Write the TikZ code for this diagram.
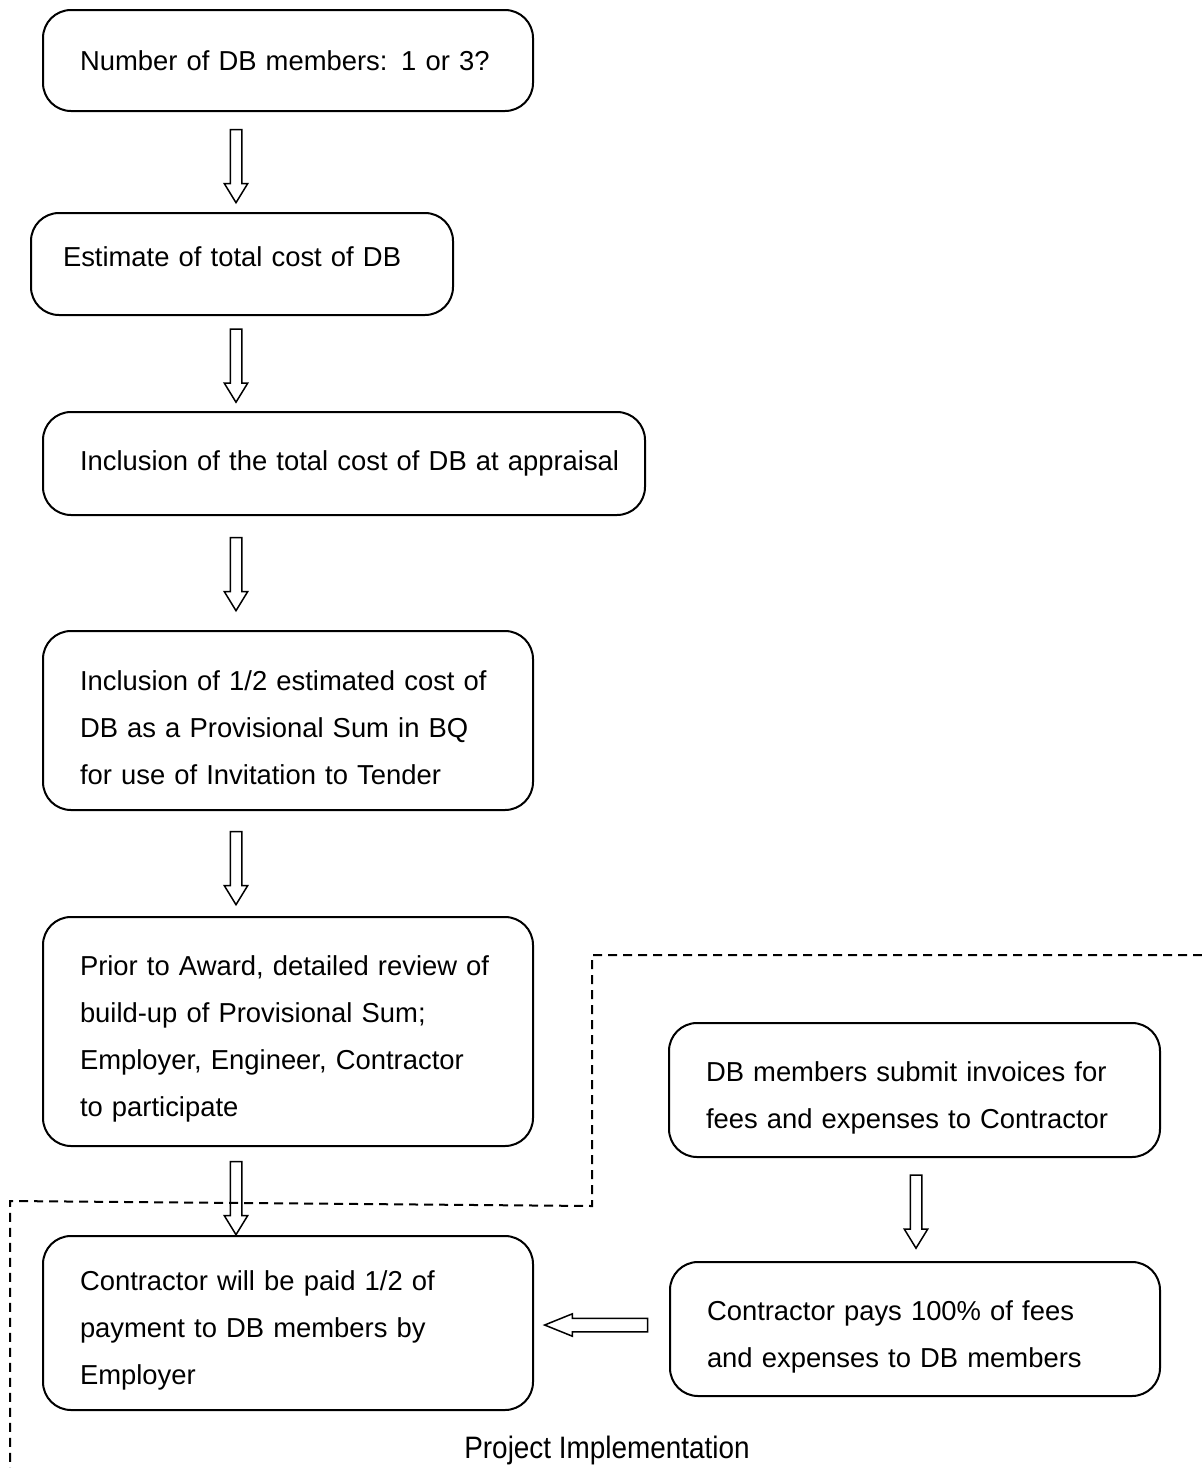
\documentclass[tikz,border=0pt]{standalone}
\usepackage{fontspec}
\setmainfont{Liberation Sans}
\usetikzlibrary{shapes,arrows}

\begin{document}
\begin{tikzpicture}[x=1pt,y=-1pt,draw=black!100]
	\def \leftcol{236}
	\def \rightcol{916}
	\def \topgap{\rule{0pt}{35pt}}
	\def \botgap{\rule[-14pt]{0pt}{14pt}}
	\tikzstyle{box}=[rectangle,rounded corners=28pt,draw=black!100,line width=2pt,align=left,inner xsep=37pt,inner ysep=0pt,font=\fontsize{27.4pt}{47pt}\selectfont]
	\tikzstyle{d-arrow}=[single arrow,draw=black!100,line width=1.5pt,rotate=-90,inner sep=5pt,single arrow head extend=6pt,single arrow tip angle=63,minimum height=73pt]
	\tikzstyle{l-arrow}=[single arrow,draw=black!100,line width=1.5pt,rotate=180,inner sep=6pt,single arrow head extend=4.5pt,single arrow tip angle=44,minimum height=103pt]
	\tikzstyle{border}=[draw=black!100,line width=2pt,dash pattern=on 9pt off 6pt]
	\tikzstyle{annot}=[font=\fontsize{31pt}{37pt}\selectfont]
	\useasboundingbox (0,0) rectangle (1202,1468);
	% planning steps
	\node[box,minimum width=490pt,minimum height=101pt,text width=416pt] (members) at (288,60.5) {Number of DB members: 1 or 3?};
	\node[box,minimum width=422pt,minimum height=102pt,inner xsep=32pt,text width=358pt] (estimate) at (242,264) {Estimate of total cost of DB\botgap};
	\node[box,minimum width=602pt,minimum height=103pt,text width=528pt] (appraisal) at (344,463.5) {\mbox{Inclusion of the total cost of DB at appraisal}};
	\node[box,minimum width=490pt,minimum height=179pt,text width=416pt] (provisional) at (288,720.5) {\topgap Inclusion of 1/2 estimated cost of\\DB as a Provisional Sum in BQ\\for use of Invitation to Tender};
	\node[box,minimum width=490pt,minimum height=229pt,text width=416pt] (review) at (288,1031.5) {\topgap Prior to Award, detailed review of\\build-up of Provisional Sum;\\Employer, Engineer, Contractor\\to participate};
	\node[box,minimum width=490pt,minimum height=174pt,text width=416pt] (paid) at (288,1323) {\topgap Contractor will be paid 1/2 of\\payment to DB members by\\Employer};
	% implementation steps
	\node[box,minimum width=491pt,minimum height=134pt,text width=417pt] (invoices) at (914.5,1090) {\topgap DB members submit invoices for\\fees and expenses to Contractor};
	\node[box,minimum width=490pt,minimum height=134pt,text width=416pt] (pays) at (915,1329) {\topgap Contractor pays 100\% of fees\\and expenses to DB members};
	% block arrows
	\node[d-arrow] (a-members) at (\leftcol,161.5) {};
	\node[d-arrow] (a-estimate) at (\leftcol,361) {};
	\node[d-arrow] (a-appraisal) at (\leftcol,569.5) {};
	\node[d-arrow] (a-provisional) at (\leftcol,863.5) {};
	\node[d-arrow] (a-review) at (\leftcol,1193.5) {};
	\node[d-arrow] (a-invoices) at (\rightcol,1207) {};
	\node[l-arrow] (a-pays) at (604.5,1325) {};
	% project implementation border
	\coordinate (b0) at (1202,955);
	\coordinate (b1) at (592,1206);
	\coordinate (b2) at (10,1201);
	\coordinate (b3) at (10,1468);
	\draw[border] (b0) -| (b1) -- (b2) -- (b3);
	\node[annot] (phase) at (607,1450) {\scalebox{0.9}[1]{Project Implementation}};
\end{tikzpicture}
\end{document}
